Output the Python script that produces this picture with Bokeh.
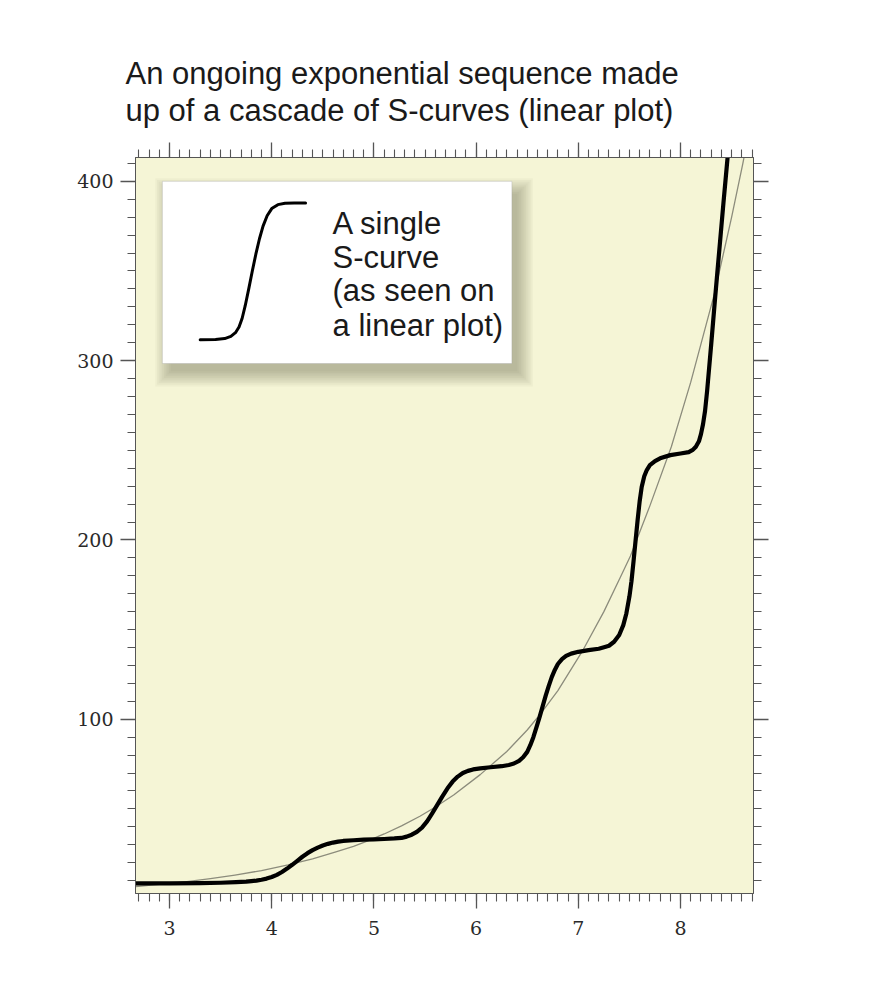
from bokeh.plotting import figure
from bokeh.models import (LinearAxis, SingleIntervalTicker, Title, BoxAnnotation,
                          Label, CustomJSTickFormatter)
from bokeh.embed import file_html
from bokeh.resources import INLINE

# ---------------- data ----------------
title_line1 = "An ongoing exponential sequence made"
title_line2 = "up of a cascade of S-curves (linear plot)"

legend_lines = ["A single", "S-curve", "(as seen on", "a linear plot)"]

# cascade of S-curves (thick black line)
cascade_x = [2.67, 3.0, 3.3, 3.5, 3.65, 3.75, 3.8, 3.85, 3.9, 3.95, 4.0, 4.05, 4.1, 4.15,
             4.2, 4.25, 4.3, 4.35, 4.4, 4.45, 4.5, 4.55, 4.6, 4.65, 4.7, 4.8, 4.9, 5.0,
             5.1, 5.2, 5.27, 5.32, 5.37, 5.42, 5.47, 5.52, 5.57, 5.62, 5.67, 5.72,
             5.77, 5.82, 5.87, 5.92, 5.97, 6.04, 6.14, 6.25, 6.32, 6.37, 6.42, 6.46,
             6.50, 6.53, 6.56, 6.59, 6.62, 6.65, 6.68, 6.71, 6.74, 6.77, 6.80, 6.84,
             6.88, 6.93, 7.0, 7.1, 7.2, 7.26, 7.30, 7.35, 7.40, 7.44, 7.47, 7.50,
             7.52, 7.54, 7.56, 7.58, 7.60, 7.62, 7.645, 7.67, 7.70, 7.75, 7.8, 7.9,
             8.0, 8.08, 8.12, 8.15, 8.18, 8.20, 8.22, 8.24, 8.26, 8.28, 8.30, 8.32,
             8.34, 8.36, 8.38, 8.40, 8.42, 8.44, 8.46, 8.48]
cascade_y = [8.4, 8.5, 8.6, 8.8, 9.1, 9.4, 9.7, 10.0, 10.5, 11.1, 12.0, 13.2, 14.8, 16.7,
             18.8, 21.0, 23.3, 25.3, 27.0, 28.4, 29.6, 30.5, 31.2, 31.7, 32.1, 32.5, 32.8, 33.0,
             33.2, 33.5, 33.8, 34.5, 35.6, 37.2, 39.5, 43.0, 47.5, 52.2, 57.0, 61.5,
             65.2, 68.0, 70.0, 71.2, 72.0, 72.6, 73.2, 73.8, 74.5, 75.3, 76.8, 78.8,
             81.8, 85.5, 90.0, 95.5, 101, 107, 113, 118.5, 123.5, 127.5, 130.8, 133.5,
             135.3, 136.6, 137.6, 138.5, 139.3, 140.3, 141, 143.2, 147, 152.5, 159, 168.5,
             177, 188, 199.5, 211, 221.5, 229.5, 235.5, 239, 241.7, 244, 245.5, 247.3,
             248.2, 249.0, 250.2, 252, 255, 259, 264.5, 272, 283, 296, 309, 322.5,
             336, 349, 362, 375, 388, 400.5, 413, 425]

# smooth exponential (thin grey line)
expo_x = [2.67, 3.0, 3.15, 3.4, 3.64, 3.9, 4.16, 4.4, 4.62, 4.8, 4.94, 5.1, 5.27, 5.45,
          5.59, 5.78, 6.04, 6.3, 6.5, 6.63, 6.8, 7.05, 7.25, 7.41, 7.51, 7.7, 7.91,
          8.1, 8.33, 8.5, 8.61, 8.65]
expo_y = [6.7, 8.4, 9.3, 11.1, 13.1, 15.6, 18.8, 22.1, 25.9, 29.1, 32.2, 36.0, 40.5, 45.9,
          50.6, 57.7, 69.1, 82, 94, 103, 116, 139, 160, 179, 191, 219, 252,
          288, 337, 380, 410, 422]

# single S-curve drawn inside the legend box
single_s_x = [3.30, 3.45, 3.54, 3.60, 3.645, 3.68, 3.71, 3.74, 3.775, 3.81, 3.845,
              3.88, 3.915, 3.955, 4.0, 4.06, 4.13, 4.22, 4.331]
single_s_y = [311.6, 311.8, 312.3, 313.5, 315.6, 318.8, 323.5, 330.5, 340, 350, 359.5,
              368, 375, 380.8, 384.8, 387.0, 387.8, 387.9, 387.9]

x_ticks_interval = 1
y_ticks_interval = 100

# ---------------- figure ----------------
X0, X1 = 2.667, 8.714
Y0, Y1 = 2.8, 413.3
FW, FH = 618, 736
px_x = (X1 - X0) / FW     # data units per pixel
px_y = (Y1 - Y0) / FH

p = figure(x_range=(X0, X1), y_range=(Y0, Y1), frame_width=FW, frame_height=FH,
           min_border_left=135, min_border_right=105, min_border_top=157,
           min_border_bottom=75, output_backend="svg", toolbar_location=None,
           title=None)
p.background_fill_color = "#F5F5D6"
p.border_fill_color = "white"
p.outline_line_color = "#666666"
p.outline_line_width = 1
p.xgrid.visible = False
p.ygrid.visible = False

TICK = "#555555"

def style(ax, show_labels):
    ax.axis_line_color = TICK
    ax.major_tick_line_color = TICK
    ax.minor_tick_line_color = TICK
    ax.major_tick_in = 0
    ax.minor_tick_in = 0
    ax.major_tick_out = 15
    ax.minor_tick_out = 8
    ax.major_tick_line_width = 1.3
    ax.minor_tick_line_width = 1.1
    ax.major_label_text_font = "DejaVu Serif"
    ax.major_label_text_font_size = "19px"
    ax.major_label_text_color = "#2a2a2a"
    if not show_labels:
        ax.formatter = CustomJSTickFormatter(code="return ''")

xb = p.xaxis[0]
xb.ticker = SingleIntervalTicker(interval=x_ticks_interval, num_minor_ticks=10)
style(xb, True)
xb.major_label_standoff = 12

yl = p.yaxis[0]
yl.ticker = SingleIntervalTicker(interval=y_ticks_interval, num_minor_ticks=10)
style(yl, True)
yl.major_label_standoff = 7

xt = LinearAxis(ticker=SingleIntervalTicker(interval=x_ticks_interval, num_minor_ticks=10))
style(xt, False)
xt.major_label_standoff = 0
p.add_layout(xt, "above")

yr = LinearAxis(ticker=SingleIntervalTicker(interval=y_ticks_interval, num_minor_ticks=10))
style(yr, False)
yr.major_label_standoff = 0
p.add_layout(yr, "right")

t = Title(text=title_line1 + "\n" + title_line2, align="left", offset=-10,
          text_font="Liberation Sans", text_font_size="31px", text_font_style="normal",
          text_color="#1a1a1a", text_line_height=1.07, standoff=28)
p.add_layout(t, "above")

# ---------------- legend box with soft shadow ----------------
L, R, T, B = 2.93, 6.35, 400.0, 298.4
for k in range(1, 11):
    s = k * 1.7
    p.add_layout(BoxAnnotation(left=L + 10 * px_x - s * px_x,
                               right=R + 4 * px_x + s * px_x,
                               top=T - 14 * px_y + s * px_y,
                               bottom=B - 6 * px_y - s * px_y,
                               fill_color="#4a4a35", fill_alpha=0.04,
                               line_color=None, level="underlay"))
p.add_layout(BoxAnnotation(left=L, right=R, top=T, bottom=B, fill_color="white",
                           fill_alpha=1.0, line_color="#9a9a9a", line_width=1,
                           level="underlay"))

p.line(single_s_x, single_s_y, line_color="black", line_width=3, line_join="round",
       line_cap="round")

base_y = [376.3, 357.3, 338.9, 319.4]
for txt, by in zip(legend_lines, base_y):
    p.add_layout(Label(x=4.595, y=by, text=txt, text_font="Liberation Sans",
                       text_font_size="31px", text_color="#1a1a1a",
                       text_baseline="alphabetic", text_align="left"))

# ---------------- curves ----------------
p.line(expo_x, expo_y, line_color="#8c8c7c", line_width=1.3, line_join="round")
p.line(cascade_x, cascade_y, line_color="black", line_width=4.2, line_join="round")

open("out.html", "w").write(file_html(p, INLINE))
